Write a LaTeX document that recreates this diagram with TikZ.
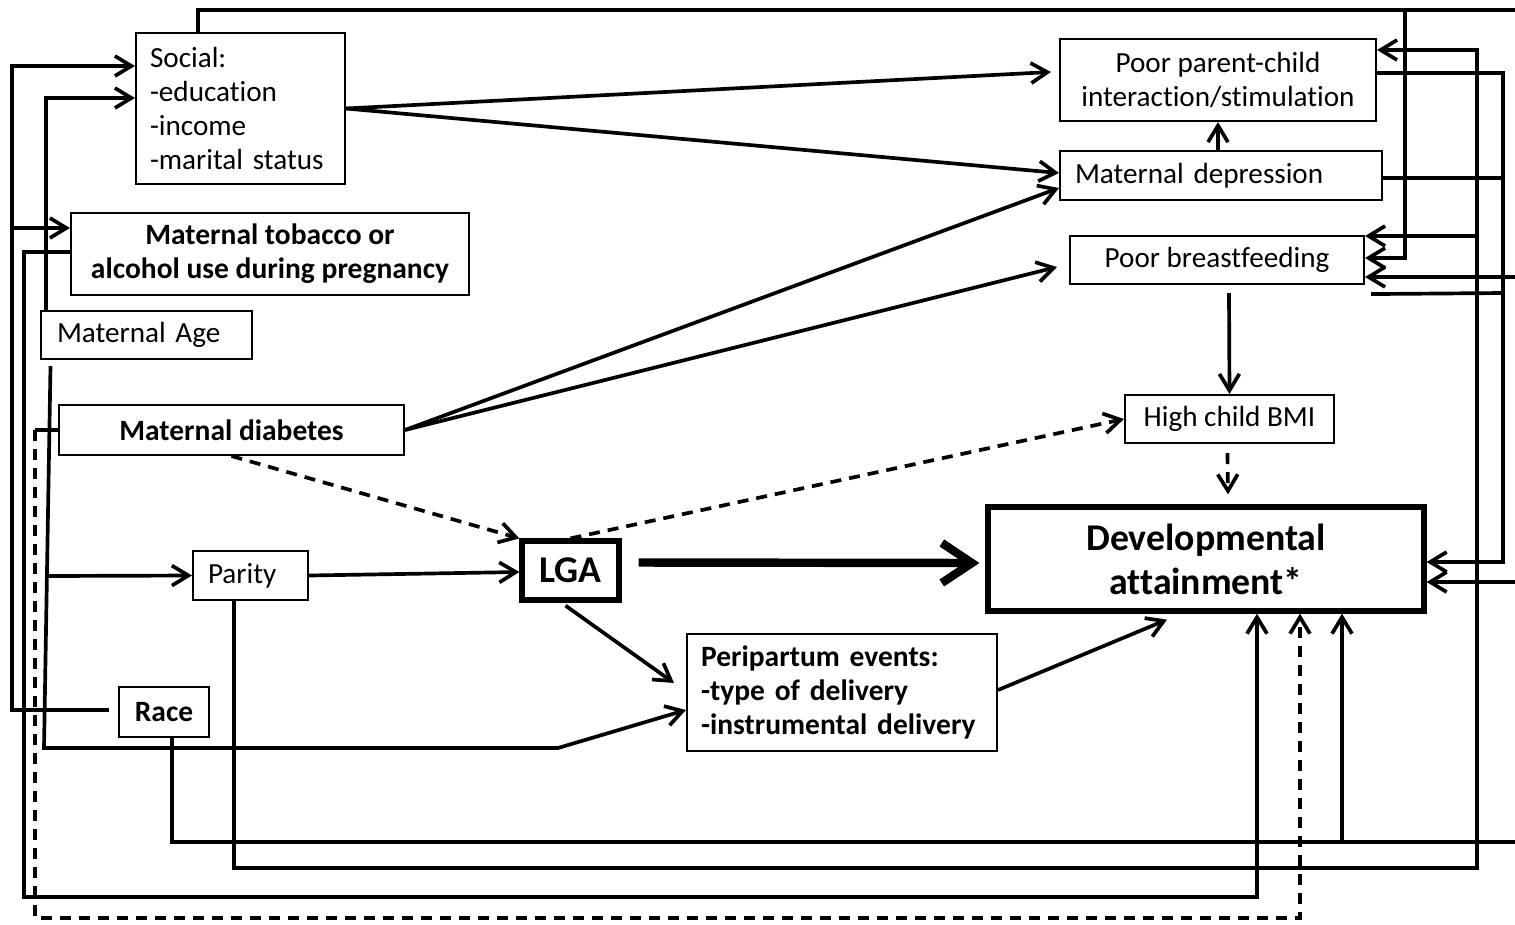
\documentclass[tikz,border=0pt]{standalone}
\usepackage{fontspec}
\setmainfont{Carlito}[Ligatures=NoCommon]
\usetikzlibrary{arrows.meta,calc}

\tikzset{
  box/.style={draw, line width=1.2pt, inner sep=0pt, align=center, font=\fontsize{16.6}{19.3}\selectfont},
  boldbox/.style={box, font=\fontsize{16.8}{19.3}\selectfont\bfseries},
  mainbox/.style={draw, line width=3pt, inner sep=0pt, align=center, font=\fontsize{21.5}{25}\selectfont\bfseries},
  wire/.style={line width=2.1pt},
  link/.style={wire, -{Straight Barb[length=0.33cm,width=0.4cm]}},
  dashlink/.style={link, dash pattern=on 0.22cm off 0.16cm},
  biglink/.style={line width=4.8pt, -{Straight Barb[length=0.6cm,width=0.8cm]}},
}

\begin{document}
\begin{tikzpicture}[x=0.02cm, y=-0.02cm]
    \useasboundingbox (0,0) rectangle (1515,924);

    % boxes
    \node[box, minimum width=4.18cm, minimum height=3.02cm, text width=3.62cm, align=left] (social) at (240.5,108.5) {Social:\\-education\\-income\\-marital status};
    \node[boldbox, minimum width=7.96cm, minimum height=1.64cm] (tobacco) at (270,254) {Maternal tobacco or\\alcohol use during pregnancy};
    \node[box, minimum width=4.22cm, minimum height=0.96cm, text width=3.58cm, align=left] (age) at (146.5,335) {Maternal Age};
    \node[boldbox, minimum width=6.9cm, minimum height=1cm] (diabetes) at (231.5,430) {Maternal diabetes};
    \node[box, minimum width=2.3cm, minimum height=0.98cm, text width=1.7cm, align=left] (parity) at (250.5,575.5) {Parity};
    \node[boldbox, minimum width=1.8cm, minimum height=1cm] (race) at (164,712) {Race};
    \node[mainbox, minimum width=1.94cm, minimum height=1.18cm] (lga) at (570.5,570.5) {LGA};
    \node[boldbox, minimum width=6.2cm, minimum height=2.34cm, text width=5.64cm, align=left] (peri) at (842,692.5) {Peripartum events:\\-type of delivery\\-instrumental delivery};
    \node[mainbox, minimum width=8.72cm, minimum height=2.08cm] (dev) at (1206,559) {Developmental\\attainment*};
    \node[box, minimum width=4.18cm, minimum height=0.96cm] (bmi) at (1229.5,419) {High child BMI};
    \node[box, minimum width=5.88cm, minimum height=0.96cm] (pbf) at (1217,260) {Poor breastfeeding};
    \node[box, minimum width=6.44cm, minimum height=0.98cm, text width=5.84cm, align=left] (md) at (1221,175.5) {Maternal depression};
    \node[box, minimum width=6.32cm, minimum height=1.64cm] (ppc) at (1218,80) {Poor parent-child\\interaction/stimulation};

    % junctions on the lanes
    \coordinate (race-j) at (12,228);
    \coordinate (age-j) at (49,576);
    \coordinate (age-bend) at (558,748);
    \coordinate (parity-j) at (1477,236);
    \coordinate (race-up) at (1342,842);
    \coordinate (social-j) at (1405,10);
    \coordinate (edge-pbf) at (1515,277);
    \coordinate (edge-dev) at (1515,582);
    \coordinate (diab-lane) at (35,430);

    % left lanes
    \draw[link] ($(race.west)+(-9,-2)$) -| (12,66) -- (social.west |- 0,66);
    \draw[link] (race-j) -- (tobacco.west |- 0,228);
    \draw[link] (46,0 |- age.north) |- (social.west |- 0,98);
    \draw[link] ($(age.south)+(-96,6)$) -- (44,748) -- (age-bend) -- (peri.west |- 0,710);
    \draw[link] (age-j) -- (parity.west);
    \draw[link] (tobacco.west |- 0,252) -| (24,897) -| (dev.south -| 1257,0);
    \draw[wire] (diabetes.west) -- (diab-lane);
    \draw[dashlink] (diab-lane) |- (1300,918) -- (dev.south -| 1300,0);

    % bottom lanes
    \draw[link] (parity.east) -- (lga.west |- 0,572);
    \draw[link] (parity.south -| 234,0) |- (1477,868) |- (ppc.east |- 0,50);
    \draw[link] (parity-j) -- (pbf.east |- 0,236);
    \draw[wire] (race.south -| 172,0) |- (1515,842);
    \draw[link] (race-up) -- (dev.south -| 1342,0);

    % top and right lanes
    \draw[wire] (social.north -| 198,0) |- (1515,10);
    \draw[link] (social-j) |- (pbf.east |- 0,258);
    \draw[link] (edge-pbf) -- (pbf.east |- 0,277);
    \draw[link] (edge-dev) -- (dev.east |- 0,582);
    \draw[link] (ppc.east |- 0,73) -| (1503,562) -- (dev.east |- 0,562);
    \draw[wire] (md.east |- 0,178) -- (1503,178);
    \draw[wire] ($(pbf.south east)+(6,9)$) -- (1503,293);

    % middle
    \draw[link] (social.east) -- ($(ppc.west |- 0,72)+(-8,0)$);
    \draw[link] (social.east) -- (md.west |- 0,173);
    \draw[link] (diabetes.east) -- (md.west |- 0,188);
    \draw[link] (diabetes.east) -- ($(pbf.west |- 0,267)+(-12,0)$);
    \draw[link] (md.north -| 1218,0) -- (ppc.south);
    \draw[link] ($(pbf.south)+(12,8)$) -- (bmi.north);
    \draw[dashlink] ($(bmi.south)+(-2,9)$) -- ($(dev.north)+(22,-10)$);
    \draw[dashlink] (diabetes.south) -- (lga.north west);
    \draw[dashlink] (lga.north) -- (bmi.west);
    \draw[biglink] ($(lga.east)+(17,-8)$) -- ($(dev.west |- 0,563)+(-6,0)$);
    \draw[link] ($(lga.south)+(-5,3)$) -- ($(peri.north west)+(-12,50)$);
    \draw[link] (peri.east |- 0,690) -- ($(dev.south -| 1167,0)+(0,6)$);
\end{tikzpicture}
\end{document}
